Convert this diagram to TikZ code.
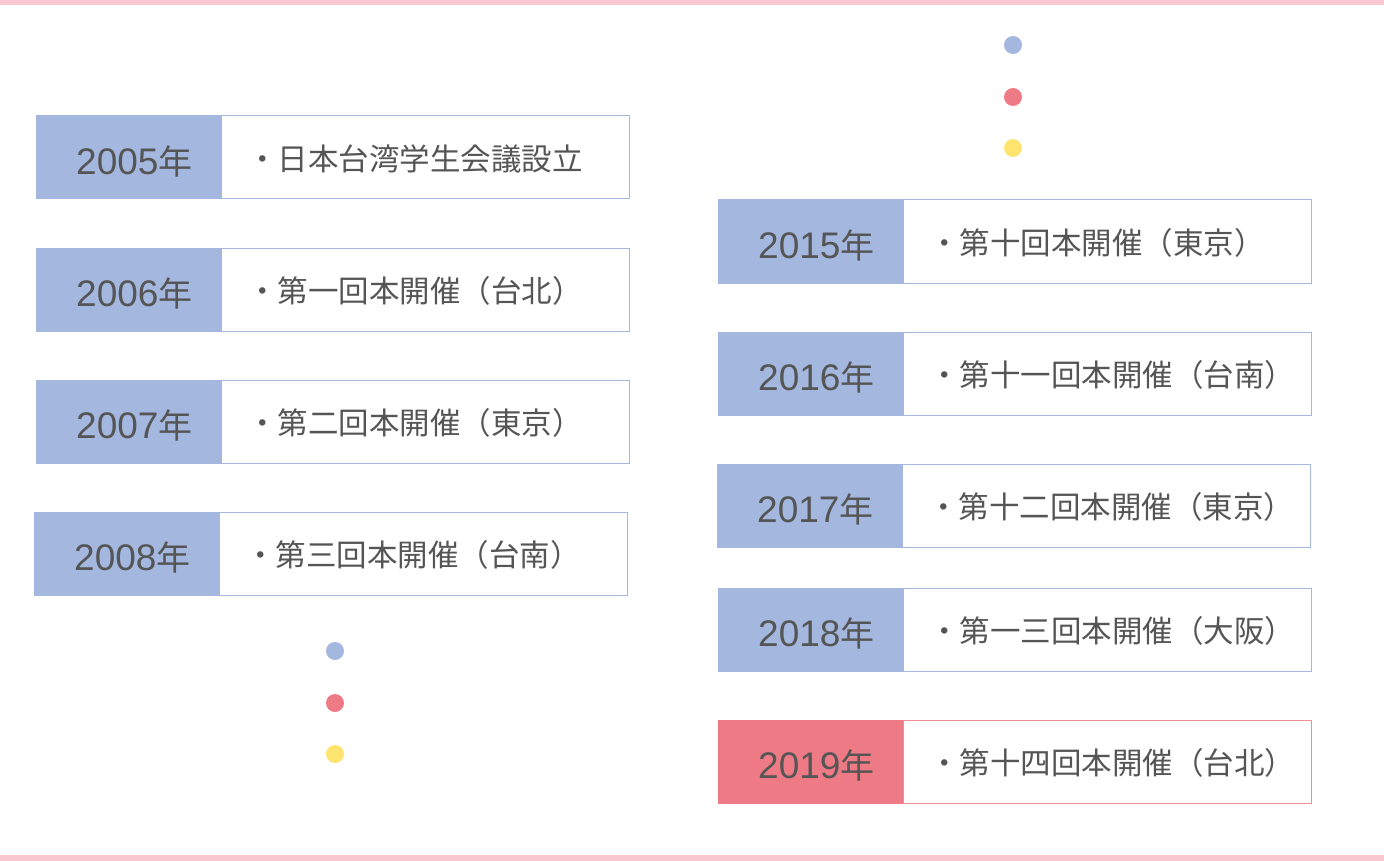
\documentclass[tikz,border=0pt]{standalone}
\usepackage{fontspec}
\setmainfont{Liberation Sans}
\newfontfamily\jp{Noto Sans CJK JP}
\definecolor{cblue}{HTML}{A3B7DF}
\definecolor{cred}{HTML}{EE7A85}
\definecolor{credline}{HTML}{F08C98}
\definecolor{cyellow}{HTML}{FFE56F}
\definecolor{cpink}{HTML}{F9C7D0}
\definecolor{ctext}{HTML}{555555}
\tikzset{
  cellbox/.style={rectangle, inner sep=0pt, outer sep=0pt, line width=1pt, minimum height=83pt},
  yeartext/.style={inner sep=0pt, text=ctext, font=\fontsize{37}{40}\selectfont},
  desctext/.style={inner sep=0pt, text=ctext, font=\jp\fontsize{30.5}{33}\selectfont},
  dotc/.style={circle, inner sep=0pt, minimum size=18pt, draw=none},
  bar/.style={fill=cpink, draw=none}
}
\newcommand\entry[7]{%
  \node[cellbox, fill=#6, draw=#6, minimum width=185pt, anchor=north west] (#1y) at (#2,#3) {};
  \node[cellbox, fill=white, draw=#7, minimum width=408pt, anchor=north west] (#1d) at (#2+185,#3) {};
  \node[yeartext, anchor=base west] (#1t) at (#2+40,#3+58.5) {#4{\jp\fontsize{34}{40}\selectfont 年}};
  \node[desctext, anchor=base west] (#1s) at (#2+211,#3+54.5) {#5};
}
\begin{document}
\begin{tikzpicture}[x=1pt,y=-1pt]
\useasboundingbox (0,0) rectangle (1384,861);
\fill[bar] (0,0) rectangle (1384,5);
\fill[bar] (0,855) rectangle (1384,861);
% left column
\entry{a}{36}{116}{2005}{・日本台湾学生会議設立}{cblue}{cblue}
\entry{b}{36}{248}{2006}{・第一回本開催（台北）}{cblue}{cblue}
\entry{c}{36}{380}{2007}{・第二回本開催（東京）}{cblue}{cblue}
\entry{d}{34}{512}{2008}{・第三回本開催（台南）}{cblue}{cblue}
% right column
\entry{e}{718}{200}{2015}{・第十回本開催（東京）}{cblue}{cblue}
\entry{f}{718}{332}{2016}{・第十一回本開催（台南）}{cblue}{cblue}
\entry{g}{717}{464}{2017}{・第十二回本開催（東京）}{cblue}{cblue}
\entry{h}{718}{588}{2018}{・第一三回本開催（大阪）}{cblue}{cblue}
\entry{i}{718}{720}{2019}{・第十四回本開催（台北）}{cred}{credline}
% dots
\node[dotc, fill=cblue] (l1) at (335,651) {};
\node[dotc, fill=cred] (l2) at (335,703) {};
\node[dotc, fill=cyellow] (l3) at (335,754) {};
\node[dotc, fill=cblue] (r1) at (1013,45) {};
\node[dotc, fill=cred] (r2) at (1013,97) {};
\node[dotc, fill=cyellow] (r3) at (1013,148) {};
\end{tikzpicture}
\end{document}
